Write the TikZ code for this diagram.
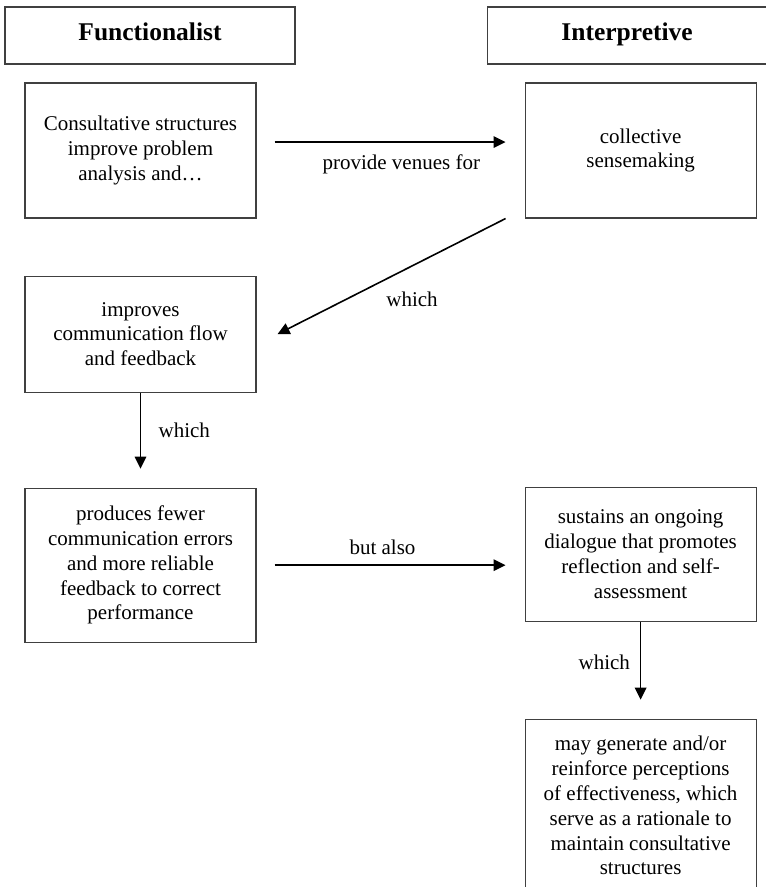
\documentclass[tikz,border=0pt]{standalone}
\usepackage{fontspec}
\setmainfont{Liberation Serif}
\usetikzlibrary{positioning,arrows.meta}
\pgfmathsetmacro{\boxwd}{231}
\pgfmathsetmacro{\colgap}{268}
\pgfmathsetmacro{\arrowgap}{19}
\newcommand{\boxfont}{\fontsize{21}{24.8}\selectfont}
\newcommand{\headfont}{\fontsize{25.5}{30}\selectfont\bfseries}

\begin{document}
\begin{tikzpicture}[x=1pt, y=-1pt,
    stepbox/.style={draw=black!75, line width=1.1pt, align=center,
      minimum width=\boxwd pt, font=\boxfont},
    headbox/.style={draw=black!75, line width=1.1pt, minimum height=57pt,
      text height=16pt, text depth=5.5pt, font=\headfont},
    flow/.style={line width=1.6pt, -{Triangle[length=12pt,width=11.5pt]}},
    tag/.style={font=\boxfont}]
    % page
    \useasboundingbox (0,0) rectangle (766,887);
    \clip (0,0) rectangle (766,887);
    % define headings
    \node[headbox, minimum width=290pt] (funchead) at (150,35.5) {Functionalist};
    \node[headbox, minimum width=280pt, right=191pt of funchead] (interphead) {Interpretive};
    % functionalist column
    \node[stepbox, minimum height=135pt] (consult) at (140.5,150.5)
      {Consultative structures\\improve problem\\analysis and…};
    \node[stepbox, minimum height=116pt, below=57pt of consult] (improves)
      {improves\\communication flow\\and feedback};
    \node[stepbox, minimum height=154pt, below=95pt of improves] (fewer)
      {produces fewer\\communication errors\\and more reliable\\feedback to correct\\performance};
    % interpretive column
    \node[stepbox, minimum height=135pt, right=\colgap pt of consult] (sense)
      {collective\\sensemaking};
    \node[stepbox, minimum height=134pt, below=268pt of sense] (sustains)
      {sustains an ongoing\\dialogue that promotes\\reflection and self-\\assessment};
    \node[stepbox, minimum height=173pt, below=97pt of sustains] (perceive)
      {may generate and/or\\reinforce perceptions\\of effectiveness, which\\serve as a rationale to\\maintain consultative\\structures};
    % draw arrows with labels
    \draw[flow, shorten <=18pt, shorten >=\arrowgap pt]
      ([yshift=8.5pt]consult.east) -- node[tag, pos=0.54, below=8.5pt] {provide venues for}
      ([yshift=8.5pt]sense.west);
    \draw[flow] ([xshift=-19pt]sense.south west) -- node[tag, pos=0.41, below=22pt] {which}
      ([xshift=21pt]improves.east);
    \draw[flow, shorten >=\arrowgap pt] (improves) -- node[tag, pos=0.4, right=14pt] {which} (fewer);
    \draw[flow, shorten <=18pt, shorten >=\arrowgap pt]
      (fewer.east) -- node[tag, pos=0.47, above=6.5pt] {but also} (sustains.west |- fewer.east);
    \draw[flow, shorten >=\arrowgap pt] (sustains) -- node[tag, pos=0.42, left=6.5pt] {which} (perceive);
\end{tikzpicture}
\end{document}
